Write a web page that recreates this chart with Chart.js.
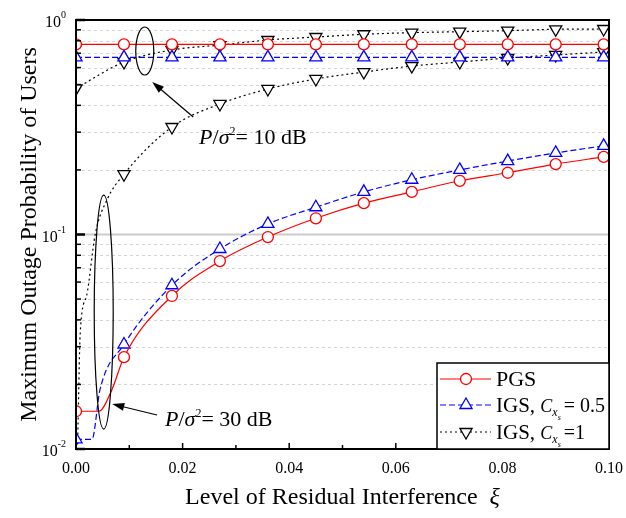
<!DOCTYPE html>
<html>
<head>
<meta charset="utf-8">
<script src="https://cdn.jsdelivr.net/npm/chart.js@4.4.0/dist/chart.umd.min.js"></script>
<style>
  body { margin: 0; background: #fff; }
  #wrap { width: 626px; height: 518px; position: relative; }
</style>
</head>
<body>
<div id="wrap"><canvas id="chart"></canvas></div>
<script>
// x positions of the markers (level of residual interference)
const xMarks = [0, 0.009, 0.018, 0.027, 0.036, 0.045, 0.054, 0.063, 0.072, 0.081, 0.09, 0.099];

// P/sigma^2 = 10 dB
const pgs10 = [0.77, 0.77, 0.77, 0.77, 0.77, 0.77, 0.77, 0.77, 0.77, 0.77, 0.77, 0.77];
const igsHalf10 = [0.67, 0.67, 0.67, 0.67, 0.67, 0.67, 0.67, 0.67, 0.67, 0.67, 0.67, 0.67];
const igsOne10 = [0.48, 0.637, 0.725, 0.764, 0.807, 0.833, 0.858, 0.873, 0.882, 0.892, 0.905, 0.908];

// P/sigma^2 = 30 dB (a few unmarked points near zero where the curves bend)
const pgs30X = [0, 0.0043, 0.0067].concat(xMarks.slice(1));
const pgs30 = [0.015, 0.015, 0.0188, 0.0268, 0.0517, 0.0752, 0.0973, 0.119, 0.140, 0.158, 0.178, 0.194, 0.213, 0.230];
const igsHalf30X = [0, 0.003, 0.0045].concat(xMarks.slice(1));
const igsHalf30 = [0.0111, 0.0111, 0.0189, 0.0307, 0.058, 0.0856, 0.112, 0.134, 0.158, 0.180, 0.200, 0.220, 0.240, 0.259];
const igsOne30X = [0.0003, 0.0008, 0.002, 0.0036, 0.0058].concat(xMarks.slice(1));
const igsOne30 = [0.0105, 0.035, 0.052, 0.1, 0.145, 0.191, 0.317, 0.406, 0.477, 0.531, 0.572, 0.610, 0.637, 0.665, 0.687, 0.709];

// axis ticks
const xTicks = [0, 0.02, 0.04, 0.06, 0.08, 0.1];
const xTickLabels = ['0.00', '0.02', '0.04', '0.06', '0.08', '0.10'];
const xMinorTicks = [0.01, 0.03, 0.05, 0.07, 0.09];
const yDecades = [1, 0.1, 0.01];
const yDecadeExp = ['0', '-1', '-2'];
const yMinorTicks = [0.02, 0.03, 0.04, 0.05, 0.06, 0.07, 0.08, 0.09, 0.2, 0.3, 0.4, 0.5, 0.6, 0.7, 0.8, 0.9];

const SERIF = '"Liberation Serif", "Times New Roman", serif';

function pts(xs, ys) {
    return ys.map((y, i) => ({ x: xs[i], y: y }));
}

function marked(r) {
    return ctx => (ctx.raw && xMarks.includes(ctx.raw.x)) ? r : 0;
}

const red = { borderColor: '#ff0000', pointBorderColor: '#ff0000', pointStyle: 'circle', pointRadius: marked(5.5) };
const blue = { borderColor: '#0000ff', pointBorderColor: '#0000ff', pointStyle: 'triangle', pointRadius: marked(7), borderDash: [6, 3] };
const black = { borderColor: '#000000', pointBorderColor: '#000000', pointStyle: 'triangle', pointRotation: 180, pointRadius: marked(7), borderDash: [2, 3] };

function series(label, data, style) {
    return Object.assign({
        label: label,
        data: data,
        borderWidth: 1.2,
        pointBorderWidth: 1.3,
        pointBackgroundColor: '#ffffff',
        cubicInterpolationMode: 'monotone',
        clip: 0
    }, style);
}

// draws a run of text pieces (italic, super/subscript) starting at x on baseline y
function drawRuns(ctx, x, y, runs, align) {
    let total = 0;
    runs.forEach(r => {
        ctx.font = (r.it ? 'italic ' : '') + r.size + 'px ' + SERIF;
        r.w = ctx.measureText(r.t).width + (r.gap || 0);
        total += r.w;
    });
    if (align === 'center') x -= total / 2;
    if (align === 'right') x -= total;
    ctx.textAlign = 'left';
    ctx.textBaseline = 'alphabetic';
    runs.forEach(r => {
        ctx.font = (r.it ? 'italic ' : '') + r.size + 'px ' + SERIF;
        ctx.fillText(r.t, x, y + (r.dy || 0));
        x += r.w;
    });
}

function arrow(ctx, x1, y1, x2, y2) {
    const a = Math.atan2(y2 - y1, x2 - x1);
    ctx.beginPath();
    ctx.moveTo(x1, y1);
    ctx.lineTo(x2 - Math.cos(a) * 8, y2 - Math.sin(a) * 8);
    ctx.stroke();
    ctx.beginPath();
    ctx.moveTo(x2, y2);
    ctx.lineTo(x2 - Math.cos(a) * 12 - Math.sin(a) * 4, y2 - Math.sin(a) * 12 + Math.cos(a) * 4);
    ctx.lineTo(x2 - Math.cos(a) * 12 + Math.sin(a) * 4, y2 - Math.sin(a) * 12 - Math.cos(a) * 4);
    ctx.closePath();
    ctx.fill();
}

function snrLabel(db) {
    return [
        { t: 'P', it: true, size: 22 },
        { t: '/', size: 22 },
        { t: 'σ', it: true, size: 22 },
        { t: '2', size: 12, dy: -9 },
        { t: '= ' + db + ' dB', size: 22 }
    ];
}

const paperPlugin = {
    id: 'paper',
    beforeDatasetsDraw(chart) {
        const { ctx, chartArea: a, scales: { y } } = chart;
        ctx.save();
        ctx.strokeStyle = '#d4d4d4';
        ctx.lineWidth = 1;
        ctx.setLineDash([3, 3]);
        yMinorTicks.forEach(v => {
            const py = Math.round(y.getPixelForValue(v)) + 0.5;
            ctx.beginPath();
            ctx.moveTo(a.left, py);
            ctx.lineTo(a.right, py);
            ctx.stroke();
        });
        ctx.setLineDash([]);
        ctx.strokeStyle = '#cccccc';
        ctx.lineWidth = 2;
        const p1 = y.getPixelForValue(0.1);
        ctx.beginPath();
        ctx.moveTo(a.left, p1);
        ctx.lineTo(a.right, p1);
        ctx.stroke();
        ctx.restore();
    },
    afterDatasetsDraw(chart) {
        const { ctx, chartArea: a, scales: { x, y } } = chart;
        ctx.save();
        ctx.fillStyle = '#000';
        ctx.strokeStyle = '#000';

        // frame
        ctx.lineWidth = 2;
        ctx.strokeRect(a.left, a.top, a.right - a.left, a.bottom - a.top);

        // inward ticks
        ctx.lineWidth = 1.5;
        xTicks.forEach(v => {
            const px = x.getPixelForValue(v);
            ctx.beginPath(); ctx.moveTo(px, a.bottom); ctx.lineTo(px, a.bottom - 6); ctx.stroke();
        });
        xMinorTicks.forEach(v => {
            const px = x.getPixelForValue(v);
            ctx.beginPath(); ctx.moveTo(px, a.bottom); ctx.lineTo(px, a.bottom - 4); ctx.stroke();
        });
        yMinorTicks.forEach(v => {
            const py = y.getPixelForValue(v);
            ctx.beginPath(); ctx.moveTo(a.left, py); ctx.lineTo(a.left + 5, py); ctx.stroke();
        });
        ctx.lineWidth = 2.5;
        yDecades.forEach(v => {
            const py = y.getPixelForValue(v);
            ctx.beginPath(); ctx.moveTo(a.left, py); ctx.lineTo(a.left + 9, py); ctx.stroke();
        });

        // tick labels
        xTicks.forEach((v, i) => {
            drawRuns(ctx, x.getPixelForValue(v), a.bottom + 24, [{ t: xTickLabels[i], size: 16 }], 'center');
        });
        yDecades.forEach((v, i) => {
            const py = y.getPixelForValue(v);
            drawRuns(ctx, a.left - 10, py + 7, [
                { t: '10', size: 16 },
                { t: yDecadeExp[i], size: 10, dy: -9 }
            ], 'right');
        });

        // axis titles
        drawRuns(ctx, (a.left + a.right) / 2, 504, [
            { t: 'Level of Residual Interference  ', size: 24 },
            { t: 'ξ', it: true, size: 24 }
        ], 'center');
        ctx.save();
        ctx.translate(36, (a.top + a.bottom) / 2);
        ctx.rotate(-Math.PI / 2);
        drawRuns(ctx, 0, 0, [{ t: 'Maximum Outage Probability of Users', size: 24 }], 'center');
        ctx.restore();

        // annotations
        ctx.lineWidth = 1.2;
        ctx.beginPath();
        ctx.ellipse(x.getPixelForValue(0.0129), y.getPixelForValue(0.717), 9, 24, 0, 0, Math.PI * 2);
        ctx.stroke();
        arrow(ctx, x.getPixelForValue(0.022), y.getPixelForValue(0.353), x.getPixelForValue(0.0143), y.getPixelForValue(0.514));
        drawRuns(ctx, x.getPixelForValue(0.0231), y.getPixelForValue(0.288) + 8, snrLabel(10));

        ctx.beginPath();
        ctx.ellipse(x.getPixelForValue(0.0052), y.getPixelForValue(0.0435), 9.5, 117, 0, 0, Math.PI * 2);
        ctx.stroke();
        arrow(ctx, x.getPixelForValue(0.0152), y.getPixelForValue(0.0144), x.getPixelForValue(0.0068), y.getPixelForValue(0.0162));
        drawRuns(ctx, x.getPixelForValue(0.0167), y.getPixelForValue(0.01396) + 8, snrLabel(30));

        // legend
        const lx = 437, ly = 363;
        ctx.fillStyle = '#fff';
        ctx.fillRect(lx, ly, a.right - lx, a.bottom - ly);
        ctx.lineWidth = 1.5;
        ctx.strokeRect(lx, ly, a.right - lx, a.bottom - ly);
        const rows = [
            { ds: chart.data.datasets[0], y: 379, runs: [{ t: 'PGS', size: 22 }] },
            { ds: chart.data.datasets[1], y: 405, runs: [
                { t: 'IGS, ', size: 21 },
                { t: 'C', it: true, size: 18 },
                { t: 'x', it: true, size: 12, dy: 4 },
                { t: 's', it: true, size: 8, dy: 8, gap: 3 },
                { t: '= 0.5', size: 20 }
            ] },
            { ds: chart.data.datasets[2], y: 432, runs: [
                { t: 'IGS, ', size: 21 },
                { t: 'C', it: true, size: 18 },
                { t: 'x', it: true, size: 12, dy: 4 },
                { t: 's', it: true, size: 8, dy: 8, gap: 3 },
                { t: '=1', size: 20 }
            ] }
        ];
        rows.forEach(r => {
            ctx.strokeStyle = r.ds.borderColor;
            ctx.lineWidth = 1.2;
            ctx.setLineDash(r.ds.borderDash || []);
            ctx.beginPath(); ctx.moveTo(440, r.y); ctx.lineTo(491, r.y); ctx.stroke();
            ctx.setLineDash([]);
            ctx.fillStyle = '#fff';
            ctx.lineWidth = 1.3;
            Chart.helpers.drawPoint(ctx, {
                pointStyle: r.ds.pointStyle,
                rotation: r.ds.pointRotation || 0,
                radius: r.ds.pointStyle === 'circle' ? 5.5 : 7,
                borderWidth: 1.3
            }, 466, r.y);
            ctx.fillStyle = '#000';
            drawRuns(ctx, 496, r.y + 7, r.runs);
        });
        ctx.restore();
    }
};

new Chart(document.getElementById('chart'), {
    type: 'line',
    data: {
        datasets: [
            series('PGS', pts(xMarks, pgs10), red),
            series('IGS, C = 0.5', pts(xMarks, igsHalf10), blue),
            series('IGS, C = 1', pts(xMarks, igsOne10), black),
            series('PGS 30 dB', pts(pgs30X, pgs30), red),
            series('IGS, C = 0.5 30 dB', pts(igsHalf30X, igsHalf30), blue),
            series('IGS, C = 1 30 dB', pts(igsOne30X, igsOne30), black)
        ]
    },
    options: {
        responsive: true,
        maintainAspectRatio: false,
        animation: false,
        layout: { padding: { top: 20, right: 17, left: 0, bottom: 0 } },
        plugins: { legend: { display: false }, tooltip: { enabled: false } },
        scales: {
            x: {
                type: 'linear', min: 0, max: 0.1,
                grid: { display: false }, border: { display: false }, ticks: { display: false },
                afterFit: s => { s.height = 69; }
            },
            y: {
                type: 'logarithmic', min: 0.01, max: 1,
                grid: { display: false }, border: { display: false }, ticks: { display: false },
                afterFit: s => { s.width = 76; }
            }
        }
    },
    plugins: [paperPlugin]
});
</script>
</body>
</html>
